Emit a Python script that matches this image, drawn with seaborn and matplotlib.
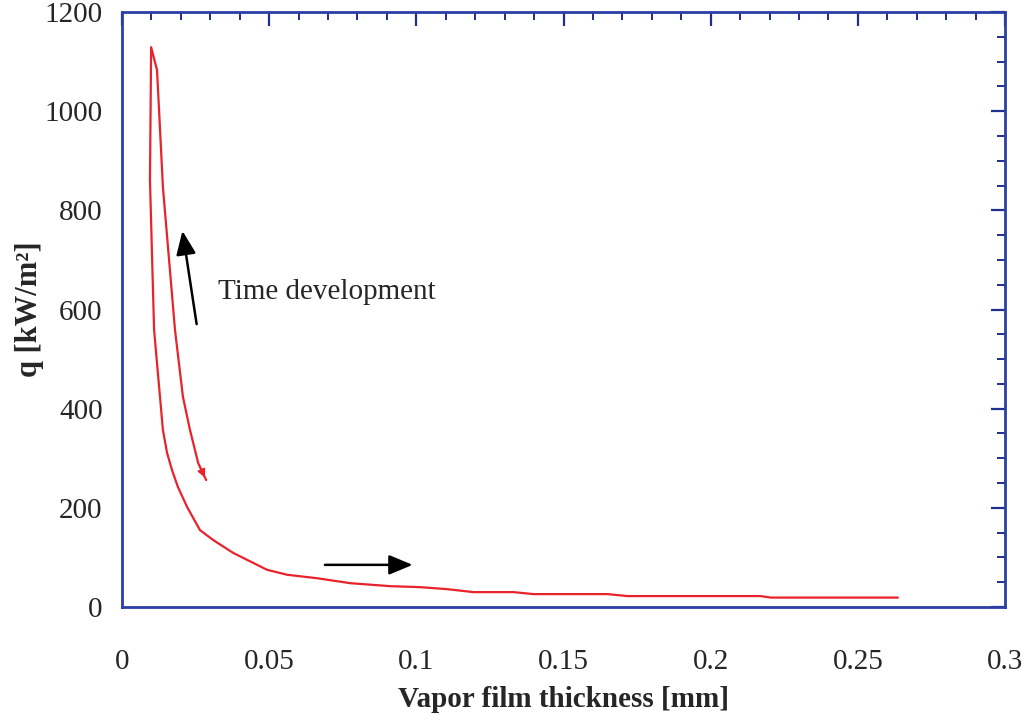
import numpy as np
import pandas as pd
import matplotlib
matplotlib.use("Agg")
import matplotlib.pyplot as plt
from matplotlib.ticker import MultipleLocator, FixedLocator
import seaborn as sns

# Rising branch (drawn from the small arrowhead up to the peak)
rise_x = [0.0286, 0.0259, 0.0231, 0.0207, 0.0180, 0.0139, 0.0119, 0.0099]
rise_q = [256, 290, 357, 424, 559, 847, 1083, 1129]
# Decaying branch (from the peak down and along the floor)
decay_x = [0.0099, 0.0095, 0.0109, 0.0139, 0.0153, 0.0170, 0.0190, 0.0221, 0.0265,
           0.0310, 0.0378, 0.0493, 0.0561, 0.0663, 0.0776, 0.0912, 0.1014, 0.1105,
           0.1194, 0.1330, 0.1398, 0.1650, 0.1718, 0.2170, 0.2204, 0.2636]
decay_q = [1129, 861, 559, 357, 311, 276, 242, 202, 155,
           135, 109, 75, 65, 58, 48, 42, 40, 36,
           30, 30, 26, 26, 22, 22, 19, 19]

x_ticks = [0, 0.05, 0.1, 0.15, 0.2, 0.25, 0.3]
x_labels = ["0", "0.05", "0.1", "0.15", "0.2", "0.25", "0.3"]
y_ticks = [0, 200, 400, 600, 800, 1000, 1200]

df = pd.DataFrame({"x": rise_x + decay_x[1:], "q": rise_q + decay_q[1:]})

sns.set_style("white")
plt.rcParams["font.family"] = ["Liberation Serif", "DejaVu Serif"]

fig = plt.figure(figsize=(10.26, 7.22), dpi=100)
ax = fig.add_axes([122 / 1026, 1 - 607 / 722, (1005 - 122) / 1026, (607 - 12) / 722])

red = "#e8232b"
sns.lineplot(data=df, x="x", y="q", sort=False, estimator=None, color=red, lw=1.6, ax=ax)

# small red arrowhead at the start of the rising branch
ax.annotate("", xy=(rise_x[0], rise_q[0]), xytext=(rise_x[1], rise_q[1]),
            arrowprops=dict(arrowstyle="-|>", color=red, lw=1.2, mutation_scale=12))

# black annotation arrows
ax.annotate("", xy=(0.0204, 764), xytext=(0.0255, 565),
            arrowprops=dict(arrowstyle="-|>,head_length=0.6,head_width=0.25",
                            color="black", lw=1.8, mutation_scale=24))
ax.annotate("", xy=(0.0997, 85), xytext=(0.0680, 85),
            arrowprops=dict(arrowstyle="-|>,head_length=0.6,head_width=0.25",
                            color="black", lw=1.8, mutation_scale=24))
ax.text(0.0327, 635, "Time development", fontsize=21, va="center", ha="left")

ax.set_xlim(0, 0.3)
ax.set_ylim(0, 1200)
ax.xaxis.set_major_locator(FixedLocator(x_ticks))
ax.set_xticklabels(x_labels)
ax.xaxis.set_minor_locator(MultipleLocator(0.01))
ax.yaxis.set_major_locator(FixedLocator(y_ticks))
ax.yaxis.set_minor_locator(MultipleLocator(50))

navy = "#1f2f8f"
for s in ax.spines.values():
    s.set_color("#2b3fa6")
    s.set_linewidth(2.0)
ax.tick_params(which="both", direction="in", top=True, right=True, color=navy)
ax.tick_params(which="major", length=10, width=1.6)
ax.tick_params(which="minor", length=6, width=1.4)
ax.tick_params(axis="x", which="major", labelsize=21, pad=30)
ax.tick_params(axis="y", which="major", labelsize=21, pad=14)

ax.set_xlabel("Vapor film thickness [mm]", fontsize=21, fontweight="bold", labelpad=8)
ax.set_ylabel("q [kW/m²]", fontsize=22, fontweight="bold", labelpad=0)

fig.savefig("out.png", dpi=100, facecolor="white")
